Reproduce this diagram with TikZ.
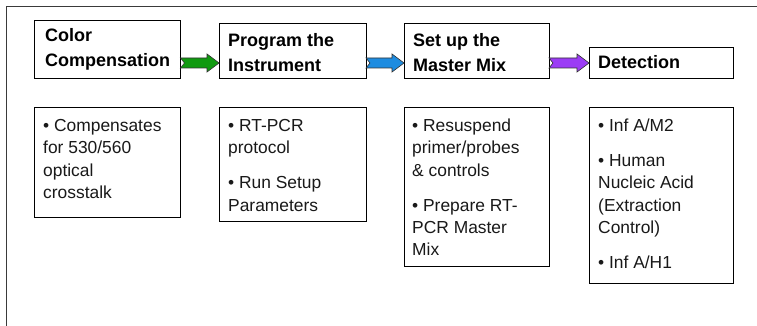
\documentclass[tikz,border=0pt]{standalone}
\usepackage{fontspec}
\setmainfont{Liberation Sans}
\usetikzlibrary{calc}
\definecolor{arrgreen}{HTML}{109A10}
\definecolor{arrblue}{HTML}{1E8CE0}
\definecolor{arrpurple}{HTML}{9B3CF5}
\definecolor{framegray}{HTML}{3A3A3A}
\tikzset{
  box/.style={draw=black, line width=0.9pt, inner sep=0pt, outer sep=0pt, anchor=north west},
  head/.style={anchor=base west, inner sep=0pt, font=\fontsize{18}{25}\selectfont\bfseries},
  body/.style={anchor=base west, inner sep=0pt, text=black!90, font=\fontsize{17.4}{22.3}\selectfont},
  blockarrow/.style={draw=black!80, line width=0.6pt, line join=miter}
}
\newcommand{\lines}[1]{\begin{tabular}[t]{@{}l@{}}#1\end{tabular}}
\begin{document}
\begin{tikzpicture}[x=1pt,y=1pt]
\useasboundingbox (0,0) rectangle (757,-326);
\fill[white] (0,0) rectangle (757,-326);
% outer frame (top and left edges visible)
\draw[framegray, line width=1pt] (6.5,-340) -- (6.5,-7) -- (770,-7);
% heading boxes
\node[box, minimum width=146, minimum height=58] (h1) at (34.5,-20) {};
\node[box, minimum width=147, minimum height=55.5] (h2) at (219,-23) {};
\node[box, minimum width=145, minimum height=55.5] (h3) at (404,-23) {};
\node[box, minimum width=144, minimum height=31.5] (h4) at (589,-47) {};
% heading texts
\node[head] (ht1) at (45,-42) {\lines{Color\\Compensation}};
\node[head] (ht2) at (228,-46.3) {\lines{Program the\\Instrument}};
\node[head] (ht3) at (413,-46.3) {\lines{Set up the\\Master Mix}};
\node[head] (ht4) at (598,-68.5) {Detection};
% body boxes
\node[box, minimum width=146, minimum height=110] (b1) at (34.5,-107) {};
\node[box, minimum width=147, minimum height=114] (b2) at (219,-107) {};
\node[box, minimum width=145, minimum height=159] (b3) at (404,-107) {};
\node[box, minimum width=144, minimum height=176] (b4) at (589,-107) {};
% body texts
\node[body] (bt1) at (43,-131.5) {\lines{• Compensates\\for 530/560\\optical\\crosstalk}};
\node[body] (bt2) at (228,-131.5) {\lines{• RT-PCR\\protocol\\[12.7pt]• Run Setup\\Parameters}};
\node[body] (bt3) at (412,-131.5) {\lines{• Resuspend\\primer/probes\\\& controls\\[12.7pt]• Prepare RT-\\PCR Master\\Mix}};
\node[body] (bt4) at (598,-131.5) {\lines{• Inf A/M2\\[12.7pt]• Human\\Nucleic Acid\\(Extraction\\Control)\\[12.7pt]• Inf A/H1}};
% block arrows
\foreach \a/\b/\c in {h1/h2/arrgreen, h2/h3/arrblue, h3/h4/arrpurple}{
  \draw[blockarrow, fill=\c] let \p1=(\a.east), \p2=(\b.west) in
    (\x1,-58) -- (\x2-12pt,-58) -- (\x2-12pt,-54) -- (\x2,-63) -- (\x2-12pt,-72)
    -- (\x2-12pt,-68) -- (\x1,-68) -- (\x1+4pt,-63) -- cycle;
}
\end{tikzpicture}
\end{document}
